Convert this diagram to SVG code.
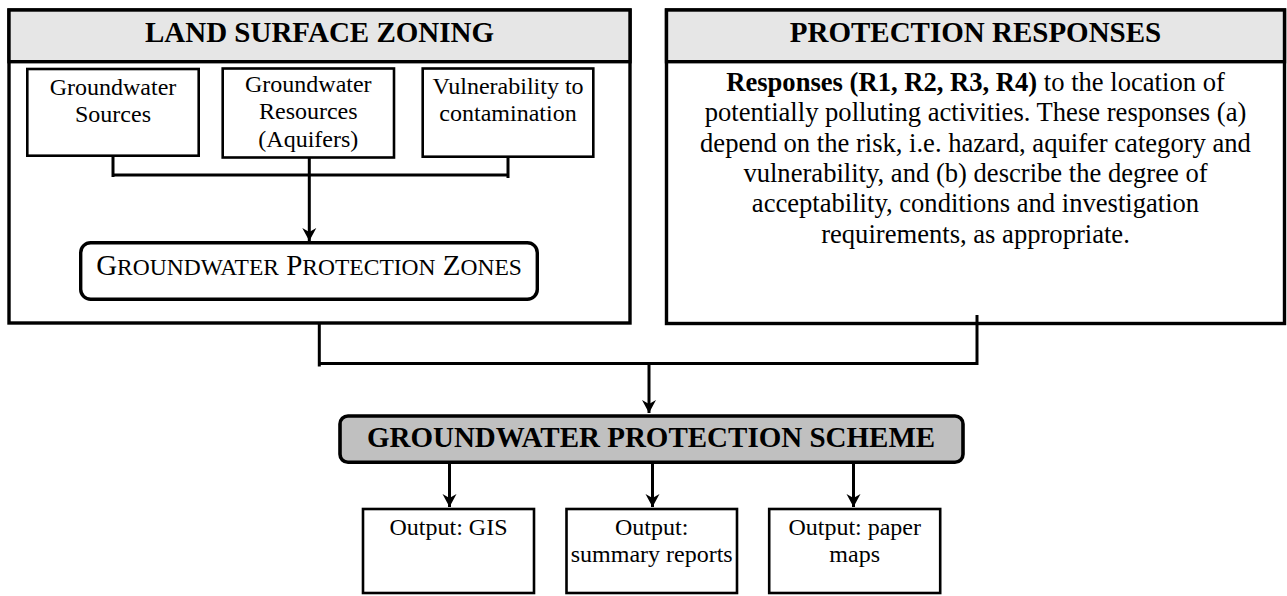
<svg xmlns="http://www.w3.org/2000/svg" width="1287" height="596" viewBox="0 0 1287 596">
  <defs>
    <style>
      text { font-family: "Liberation Serif", "Times New Roman", serif; fill: #000; }
      .panel { fill: #fff; stroke: #000; stroke-width: 3.4; }
      .head { fill: #e6e6e6; stroke: #000; stroke-width: 3.4; }
      .box { fill: #fff; stroke: #000; stroke-width: 2.6; }
      .rbox { fill: #fff; stroke: #000; stroke-width: 3.4; }
      .scheme { fill: #c0c0c0; stroke: #000; stroke-width: 3.6; }
      .title { font-size: 29px; font-weight: bold; text-anchor: middle; }
      .lbl { font-size: 24px; text-anchor: middle; }
      .body { font-size: 26.6px; text-anchor: middle; }
      .wire { fill: none; stroke: #000; stroke-width: 3; }
    </style>
    <marker id="arrow" markerUnits="userSpaceOnUse" markerWidth="16" markerHeight="16" viewBox="-14 -8 16 16" refX="0" refY="0" orient="auto">
      <path d="M0,0 L-13,-7 L-9,0 L-13,7 Z" fill="#000"/>
    </marker>
  </defs>

  <!-- Land surface zoning panel -->
  <g id="land-surface-zoning">
    <rect class="panel" x="9" y="10" width="621" height="313"/>
    <rect class="head" x="9" y="10" width="621" height="51.7"/>
    <text class="title" x="319.5" y="42.3">LAND SURFACE ZONING</text>
  </g>

  <g id="groundwater-sources">
    <rect class="box" x="27.3" y="69" width="171.4" height="86.7"/>
    <text class="lbl" x="113" y="95">Groundwater</text>
    <text class="lbl" x="113" y="121.7">Sources</text>
  </g>

  <g id="groundwater-resources">
    <rect class="box" x="222.7" y="68.5" width="171.3" height="89"/>
    <text class="lbl" x="308.3" y="91.7">Groundwater</text>
    <text class="lbl" x="308.3" y="119">Resources</text>
    <text class="lbl" x="308.3" y="146.5">(Aquifers)</text>
  </g>

  <g id="vulnerability">
    <rect class="box" x="422.7" y="68.5" width="170.6" height="88.2"/>
    <text class="lbl" x="508" y="94">Vulnerability to</text>
    <text class="lbl" x="508" y="121.2">contamination</text>
  </g>

  <g id="protection-zones">
    <rect class="rbox" x="80.7" y="242.7" width="456.6" height="56.6" rx="10" ry="10"/>
    <text x="309" y="275" text-anchor="middle" font-size="29"><tspan>G</tspan><tspan font-size="23.5">ROUNDWATER</tspan> <tspan>P</tspan><tspan font-size="23.5">ROTECTION</tspan> <tspan>Z</tspan><tspan font-size="23.5">ONES</tspan></text>
  </g>

  <!-- Protection responses panel -->
  <g id="protection-responses">
    <rect class="panel" x="666.5" y="10" width="618" height="313.5"/>
    <rect class="head" x="666.5" y="10" width="618" height="51.7"/>
    <text class="title" x="975.5" y="41.7">PROTECTION RESPONSES</text>
    <text class="body" x="975.5" y="90.7"><tspan font-weight="bold">Responses (R1, R2, R3, R4)</tspan> to the location of</text>
    <text class="body" x="975.5" y="121">potentially polluting activities. These responses (a)</text>
    <text class="body" x="975.5" y="151.5">depend on the risk, i.e. hazard, aquifer category and</text>
    <text class="body" x="975.5" y="181.8">vulnerability, and (b) describe the degree of</text>
    <text class="body" x="975.5" y="212.1">acceptability, conditions and investigation</text>
    <text class="body" x="975.5" y="242.6">requirements, as appropriate.</text>
  </g>

  <!-- Scheme and outputs -->
  <g id="protection-scheme">
    <rect class="scheme" x="340" y="416" width="623" height="46.3" rx="8" ry="8"/>
    <text class="title" x="651" y="446.7">GROUNDWATER PROTECTION SCHEME</text>
  </g>

  <g id="output-gis">
    <rect class="box" x="363" y="509" width="171" height="84"/>
    <text class="lbl" x="448.5" y="535">Output: GIS</text>
  </g>

  <g id="output-reports">
    <rect class="box" x="566.5" y="509" width="170.5" height="84"/>
    <text class="lbl" x="651.7" y="535">Output:</text>
    <text class="lbl" x="651.7" y="561.7">summary reports</text>
  </g>

  <g id="output-maps">
    <rect class="box" x="769.2" y="509" width="171" height="84"/>
    <text class="lbl" x="854.7" y="535">Output: paper</text>
    <text class="lbl" x="854.7" y="561.7">maps</text>
  </g>

  <!-- Connectors -->
  <g id="connectors">
    <line class="wire" x1="113" y1="156" x2="113" y2="177"/>
    <line class="wire" x1="508" y1="157" x2="508" y2="178"/>
    <line class="wire" x1="113" y1="175" x2="508" y2="175"/>
    <line class="wire" x1="309.3" y1="158" x2="309.3" y2="241" marker-end="url(#arrow)"/>

    <line class="wire" x1="319.3" y1="322" x2="319.3" y2="366.5"/>
    <line class="wire" x1="977" y1="315" x2="977" y2="365"/>
    <line class="wire" x1="319.3" y1="363.5" x2="977" y2="363.5"/>
    <line class="wire" x1="649" y1="363.5" x2="649" y2="413" marker-end="url(#arrow)"/>

    <line class="wire" x1="449.5" y1="462" x2="449.5" y2="507" marker-end="url(#arrow)"/>
    <line class="wire" x1="652.5" y1="462" x2="652.5" y2="507" marker-end="url(#arrow)"/>
    <line class="wire" x1="853.5" y1="462" x2="853.5" y2="507" marker-end="url(#arrow)"/>
  </g>
</svg>
